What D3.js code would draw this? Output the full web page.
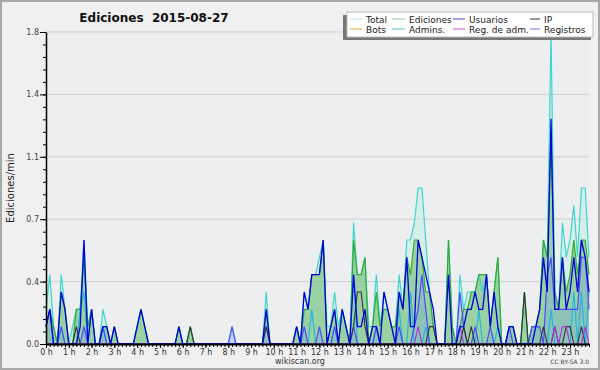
<!DOCTYPE html>
<html>
<head>
<meta charset="utf-8">
<script src="https://cdn.jsdelivr.net/npm/d3@7"></script>
<style>
  body { margin: 0; background: #f0f0f0; }
  svg { display: block; }
  text { font-family: "DejaVu Sans", sans-serif; }
</style>
</head>
<body>
<svg id="chart"></svg>
<script>
// edits per minute, 10-minute bins, 6 per hour (0 h .. 23 h)
const total = [
  0.2,0.4,0.1,0,0.4,0.2,   0,0.1,0.2,0.2,0.6,0.1,   0.2,0,0,0.2,0.1,0,   0.1,0,0,0,0,0,
  0.1,0.2,0.1,0,0,0,       0,0,0,0,0,0.1,           0,0,0.1,0,0,0,       0,0,0,0,0,0,
  0,0.1,0,0,0,0,           0,0,0,0,0.3,0,           0,0,0,0,0,0,         0.1,0,0.3,0.2,0.4,0.4,
  0.5,0.6,0.1,0.1,0.3,0.1, 0.2,0.1,0,0.7,0.4,0.4,   0.5,0.1,0.1,0.4,0.1,0.3, 0.2,0.1,0.1,0.4,0.2,0.6,
  0.6,0.7,0.9,0.9,0.6,0.3, 0.1,0,0,0,0.6,0.1,       0,0.4,0.2,0.3,0.3,0.3, 0.4,0.3,0.4,0.1,0.3,0.5,
  0,0,0.1,0.1,0,0,         0.3,0,0.1,0.1,0.2,0.6,   0.5,1.8,0.3,0.2,0.7,0.5, 0.6,0.8,0.5,0.9,0.9,0.5
];
const ediciones = [
  0.1,0.2,0.1,0,0.3,0.2,   0,0,0.2,0.2,0.5,0.1,     0.2,0,0,0.1,0.1,0,   0.1,0,0,0,0,0,
  0.1,0.2,0.1,0,0,0,       0,0,0,0,0,0.1,           0,0,0.1,0,0,0,       0,0,0,0,0,0,
  0,0,0,0,0,0,             0,0,0,0,0.2,0,           0,0,0,0,0,0,         0.1,0,0.2,0.2,0.4,0.4,
  0.4,0.6,0,0.1,0.2,0,     0.2,0.1,0,0.6,0.4,0.4,   0.5,0,0.1,0.3,0.1,0.2, 0.2,0.1,0.1,0.3,0.2,0.5,
  0.4,0.6,0.6,0.5,0.3,0.3, 0.1,0,0,0,0.6,0.1,       0,0.1,0.2,0.2,0.3,0.3, 0.4,0.4,0.4,0.1,0.3,0.5,
  0,0,0.1,0.1,0,0,         0.3,0,0.1,0.1,0.2,0.6,   0.5,1.2,0.3,0.2,0.5,0.3, 0.4,0.6,0.4,0.6,0.6,0.4
];
const usuarios = [
  0.1,0.2,0,0,0.3,0.2,     0,0,0,0.1,0.6,0,         0.2,0,0,0.1,0.1,0,   0.1,0,0,0,0,0,
  0.1,0.2,0.1,0,0,0,       0,0,0,0,0,0.1,           0,0,0,0,0,0,         0,0,0,0,0,0,
  0,0,0,0,0,0,             0,0,0,0,0.2,0,           0,0,0,0,0,0,         0.1,0,0.3,0.2,0.4,0.4,
  0.4,0.6,0,0.1,0.2,0,     0.2,0.1,0,0.4,0.1,0.1,   0.2,0,0.1,0.1,0,0.3, 0.2,0.1,0,0.3,0.2,0.5,
  0.1,0.1,0.6,0.5,0.4,0.3, 0.2,0,0,0,0.4,0,         0,0.1,0.1,0.2,0.2,0.3, 0.2,0.2,0.4,0.1,0.3,0.1,
  0,0,0.1,0.1,0,0,         0,0,0,0.1,0.2,0.5,       0.3,1.3,0.2,0.2,0.5,0.2, 0.3,0.5,0.3,0.6,0.5,0.3
];
const ip = [
  0,0,0,0,0,0,             0,0,0.1,0,0,0,           0,0,0,0,0,0,         0,0,0,0,0,0,
  0,0,0,0,0,0,             0,0,0,0,0,0,             0,0,0.1,0,0,0,       0,0,0,0,0,0,
  0,0,0,0,0,0,             0,0,0,0,0.1,0,           0,0,0,0,0,0,         0,0,0,0,0,0,
  0,0,0,0,0,0,             0,0,0,0.1,0.3,0.3,       0.1,0,0,0,0,0,       0,0,0,0,0,0,
  0,0,0,0,0,0.1,           0.1,0,0,0,0,0,           0,0,0.1,0,0.1,0,     0,0,0,0,0,0,
  0,0,0,0,0,0,             0.3,0,0,0,0,0.1,         0,0,0.1,0,0,0.1,     0.1,0,0,0.1,0,0
];
const admins = [
  0.1,0.2,0,0,0.1,0,       0,0,0,0.2,0.3,0,         0.2,0,0,0.1,0,0,     0,0,0,0,0,0,
  0,0,0,0,0,0,             0,0,0,0,0,0,             0,0,0,0,0,0,         0,0,0,0,0,0,
  0,0,0,0,0,0,             0,0,0,0,0,0,             0,0,0,0,0,0,         0,0,0,0,0.2,0,
  0,0,0,0,0.1,0,           0,0,0,0.4,0,0,           0,0,0,0.1,0,0,       0,0,0,0.2,0,0,
  0.3,0,0,0,0.1,0,         0,0,0,0,0,0,             0,0,0,0,0,0,         0.2,0,0,0,0,0.1,
  0,0,0,0,0,0,             0,0,0,0,0,0,             0,0.2,0,0,0,0,       0,0.3,0,0.3,0,0.3
];
const regAdm = [
  0,0,0,0,0,0,             0,0,0,0,0,0,             0,0,0,0,0,0,         0,0,0,0,0,0,
  0,0,0,0,0,0,             0,0,0,0,0,0,             0,0,0,0,0,0,         0,0,0,0,0,0,
  0,0,0,0,0,0,             0,0,0,0,0,0,             0,0,0,0,0,0,         0,0,0,0,0,0,
  0,0,0,0,0,0,             0,0,0,0,0,0,             0,0,0,0,0,0,         0,0,0,0,0,0,
  0,0,0.1,0,0,0,           0,0,0,0,0,0,             0,0.1,0,0,0,0,       0,0,0,0,0,0,
  0,0,0,0,0,0,             0,0,0,0,0,0,             0,0,0.1,0,0.1,0.1,   0,0,0,0,0.1,0
];
const registros = [
  0.1,0.2,0,0,0.1,0,       0,0,0,0,0.1,0,           0,0,0,0.1,0,0,       0,0,0,0,0,0,
  0,0,0,0,0,0,             0,0,0,0,0,0,             0,0,0,0,0,0,         0,0,0,0,0,0,
  0,0.1,0,0,0,0,           0,0,0,0,0.1,0,           0,0,0,0,0,0,         0,0,0.1,0,0,0,
  0.1,0,0,0,0.1,0,         0,0,0,0.1,0,0,           0,0,0,0.1,0,0,       0,0,0,0.1,0,0,
  0,0.1,0.2,0.4,0.2,0,     0,0,0,0,0,0,             0,0.3,0.1,0,0,0.1,   0,0,0,0.1,0,0,
  0,0,0.1,0,0,0,           0,0,0.1,0.1,0.1,0,       0.4,0.5,0.2,0.2,0.2,0.2, 0.2,0.2,0.2,0.5,0.5,0.2
];

const hours = d3.range(24);
const yMax = 1.8;

const legendItems = [
  {name: "Total", color: "#b4e8e6"},
  {name: "Ediciones", color: "#8ccf8c"},
  {name: "Usuarios", color: "#4040e0"},
  {name: "IP", color: "#333333"},
  {name: "Bots", color: "#f4a040"},
  {name: "Admins.", color: "#50c8dc"},
  {name: "Reg. de adm.", color: "#c850e8"},
  {name: "Registros", color: "#7070ff"}
];

const width = 600, height = 370;
const plot = {left: 46, right: 589, top: 32, bottom: 344};

const svg = d3.select("#chart")
    .attr("width", width)
    .attr("height", height);

svg.append("rect")
    .attr("x", 1).attr("y", 1)
    .attr("width", width - 2).attr("height", height - 2)
    .attr("fill", "#f0f0f0")
    .attr("stroke", "#a8a8a8")
    .attr("stroke-width", 2);

svg.append("rect")
    .attr("x", plot.left).attr("y", plot.top)
    .attr("width", plot.right - plot.left).attr("height", plot.bottom - plot.top)
    .attr("fill", "#edeef0");

const x = d3.scaleLinear().domain([0, 143]).range([plot.left, plot.right]);
const y = d3.scaleLinear().domain([0, yMax]).range([plot.bottom, plot.top]);

const majorY = d3.range(6).map(k => k * yMax / 5);
const minorY = d3.range(26).map(k => k * yMax / 25);

// grid
svg.append("g")
    .selectAll("line")
    .data(majorY.slice(1))
    .join("line")
    .attr("x1", plot.left).attr("x2", plot.right)
    .attr("y1", d => y(d)).attr("y2", d => y(d))
    .attr("stroke", "#cccccc")
    .attr("stroke-width", 1);

const area = v => d3.area()
    .x((d, i) => x(i))
    .y0(y(0))
    .y1(d => y(d))(v);
const line = v => d3.line()
    .x((d, i) => x(i))
    .y(d => y(d))(v);

const g = svg.append("g");

g.append("path").attr("d", area(total))
    .attr("fill", "#bfeee4").attr("fill-opacity", 0.5);
g.append("path").attr("d", area(ediciones))
    .attr("fill", "#5cb45c").attr("fill-opacity", 0.5);
g.append("path").attr("d", area(registros))
    .attr("fill", "#6a8cff").attr("fill-opacity", 0.22);

const lines = [
  [total, "#3ed6cc", 1.2],
  [ediciones, "#33aa33", 1.2],
  [admins, "#22b8dd", 1.2],
  [registros, "#4c4cff", 1.2],
  [ip, "#333333", 1.1],
  [regAdm, "#b030e0", 1.1],
  [usuarios, "#0000dd", 1.3]
];
g.selectAll(".series")
    .data(lines)
    .join("path")
    .attr("class", "series")
    .attr("fill", "none")
    .attr("stroke", d => d[1])
    .attr("stroke-width", d => d[2])
    .attr("d", d => line(d[0]));

// axes
svg.append("g")
    .attr("transform", `translate(${plot.left},0)`)
    .call(d3.axisLeft(y).tickValues(minorY).tickSize(3).tickFormat(""))
    .call(a => a.select(".domain").remove())
    .call(a => a.selectAll("line").attr("stroke", "#000"));

svg.append("g")
    .attr("transform", `translate(${plot.left},0)`)
    .call(d3.axisLeft(y).tickValues(majorY).tickSize(6).tickSizeOuter(0).tickPadding(1).tickFormat(d3.format(".1f")))
    .call(a => a.select(".domain").attr("stroke", "#000").attr("stroke-width", 1.5))
    .call(a => a.selectAll("text")
        .attr("font-size", 8)
        .attr("fill", "#444")
        .attr("font-family", "DejaVu Sans"));

svg.append("g")
    .attr("transform", `translate(0,${plot.bottom})`)
    .call(d3.axisBottom(x).tickValues(d3.range(144)).tickSize(3).tickFormat(""))
    .call(a => a.select(".domain").remove())
    .call(a => a.selectAll("line").attr("stroke", "#000"));

svg.append("g")
    .attr("transform", `translate(0,${plot.bottom})`)
    .call(d3.axisBottom(x).tickValues(hours.map(h => h * 6)).tickSize(4).tickSizeOuter(0).tickPadding(1)
        .tickFormat(d => `${d / 6} h`))
    .call(a => a.select(".domain").attr("stroke", "#000").attr("stroke-width", 2))
    .call(a => a.selectAll("text")
        .attr("font-size", 8)
        .attr("fill", "#333")
        .attr("font-family", "DejaVu Sans"));

// title and labels
svg.append("text")
    .attr("x", 154).attr("y", 22)
    .attr("text-anchor", "middle")
    .style("white-space", "pre")
    .attr("font-size", 12)
    .attr("font-weight", "bold")
    .attr("fill", "#111")
    .text("Ediciones  2015-08-27");

svg.append("text")
    .attr("transform", "translate(14,188) rotate(-90)")
    .attr("text-anchor", "middle")
    .attr("font-family", "DejaVu Sans Mono")
    .attr("font-size", 10)
    .attr("fill", "#222")
    .text("Ediciones/min");

svg.append("text")
    .attr("x", 300).attr("y", 364)
    .attr("text-anchor", "middle")
    .attr("font-size", 8)
    .attr("fill", "#333")
    .text("wikiscan.org");

svg.append("text")
    .attr("x", 589).attr("y", 364)
    .attr("text-anchor", "end")
    .attr("font-size", 6)
    .attr("fill", "#444")
    .text("CC BY-SA 3.0");

// legend
const lg = svg.append("g");
lg.append("rect")
    .attr("x", 343).attr("y", 15)
    .attr("width", 248).attr("height", 25)
    .attr("fill", "#777");
lg.append("rect")
    .attr("x", 347).attr("y", 12)
    .attr("width", 246).attr("height", 25)
    .attr("fill", "#fff")
    .attr("stroke", "#bbb")
    .attr("stroke-width", 1);

const colX = [350, 392, 453, 530];
const colW = [12, 13, 12, 10];
const item = lg.selectAll(".item")
    .data(legendItems)
    .join("g")
    .attr("class", "item")
    .attr("transform", (d, i) => `translate(${colX[i % 4]},${i < 4 ? 19 : 29})`);
item.append("line")
    .attr("x1", 0).attr("x2", (d, i) => colW[i % 4])
    .attr("y1", 0).attr("y2", 0)
    .attr("stroke", d => d.color)
    .attr("stroke-width", 1);
item.append("text")
    .attr("x", (d, i) => colW[i % 4] + 4)
    .attr("y", 3.5)
    .attr("font-size", 9)
    .attr("fill", "#222")
    .text(d => d.name);
</script>
</body>
</html>
